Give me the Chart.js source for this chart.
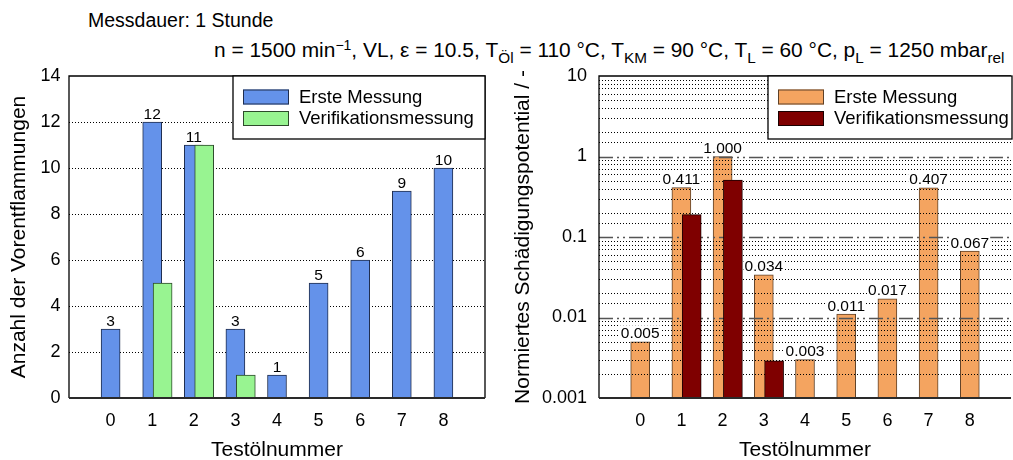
<!DOCTYPE html>
<html>
<head>
<meta charset="utf-8">
<script src="https://cdn.jsdelivr.net/npm/chart.js@4.4.1/dist/chart.umd.min.js"></script>
<style>
  html, body { margin: 0; padding: 0; background: #fff; }
  body { width: 1013px; height: 460px; position: relative; overflow: hidden;
         font-family: "Liberation Sans", Arial, Helvetica, sans-serif; color: #000; }
  .hdr { position: absolute; white-space: nowrap; line-height: 20px; }
  .hdr sub { font-size: 15.3px; line-height: 0; vertical-align: baseline; position: relative; top: 6px; }
  .hdr sup { font-size: 14px; line-height: 0; vertical-align: baseline; position: relative; top: -7px; }
  #leftChart { position: absolute; left: 0; top: 0; }
  #rightChart { position: absolute; left: 500px; top: 0; }
</style>
</head>
<body>
<div class="hdr" style="left:88px; top:10px; font-size:19.5px;">Messdauer: 1 Stunde</div>
<div class="hdr" style="left:214px; top:40px; font-size:20.9px;">n = 1500 min<sup>−1</sup>, VL, ε = 10.5, T<sub>Öl</sub> = 110 °C, T<sub>KM</sub> = 90 °C, T<sub>L</sub> = 60 °C, p<sub>L</sub> = 1250 mbar<sub>rel</sub></div>
<canvas id="leftChart" width="500" height="460"></canvas>
<canvas id="rightChart" width="515" height="460"></canvas>
<script>
// Test oils and measured values
const oilNumbers = [0, 1, 2, 3, 4, 5, 6, 7, 8];
const seriesNames = ['Erste Messung', 'Verifikationsmessung'];

// number of pre-ignitions per test oil
const preIgnitionsFirst  = [3, 12, 11, 3, 1, 5, 6, 9, 10];
const preIgnitionsVerify = [null, 5, 11, 1, null, null, null, null, null];

// normalised damage potential per test oil
const damageFirst  = [0.005, 0.411, 1.000, 0.034, 0.003, 0.011, 0.017, 0.407, 0.067];
const damageVerify = [null, 0.19, 0.51, 0.0029, null, null, null, null, null];

// axis ticks
const countTicks  = [0, 2, 4, 6, 8, 10, 12, 14];
const damageTicks = [0.001, 0.01, 0.1, 1, 10];

const FONT = '"Liberation Sans", Arial, Helvetica, sans-serif';
Chart.defaults.font.family = FONT;
Chart.defaults.color = '#000';

const toPoints = vals => oilNumbers.map((x, i) => ({ x: x, y: vals[i] }));

// horizontal grid: dotted lines, dash-dot at decades on a log axis;
// drawn either behind all bars or right after the first series
const hGrid = {
  id: 'hGrid',
  draw(chart, opts) {
    const ctx = chart.ctx;
    const a = chart.chartArea;
    const y = chart.scales.y;
    ctx.save();
    y.ticks.forEach(t => {
      const v = t.value;
      if (v <= y.min || v >= y.max) return;
      let decade = false;
      if (opts.log) {
        const lg = Math.log10(v);
        decade = Math.abs(lg - Math.round(lg)) < 1e-6;
      }
      const py = Math.round(y.getPixelForValue(v)) + 0.5;
      ctx.beginPath();
      if (decade) {
        ctx.strokeStyle = '#555';
        ctx.lineWidth = 1.6;
        ctx.setLineDash([14, 4, 2, 4, 2, 4]);
      } else {
        ctx.strokeStyle = '#000';
        ctx.lineWidth = 1;
        ctx.setLineDash([1, 2]);
      }
      ctx.moveTo(a.left, py);
      ctx.lineTo(a.right, py);
      ctx.stroke();
    });
    ctx.restore();
  },
  beforeDatasetsDraw(chart, args, opts) {
    if (!opts.afterFirst) this.draw(chart, opts);
  },
  afterDatasetDraw(chart, args, opts) {
    if (opts.afterFirst && args.index === 0) this.draw(chart, opts);
  }
};

// value labels with a white backing box above the bars of the first series
const valueLabels = {
  id: 'valueLabels',
  afterDatasetsDraw(chart, args, opts) {
    const ctx = chart.ctx;
    const meta = chart.getDatasetMeta(0);
    const vals = chart.data.datasets[0].data;
    ctx.save();
    ctx.font = '15.5px ' + FONT;
    ctx.textAlign = 'center';
    ctx.textBaseline = 'alphabetic';
    meta.data.forEach((bar, i) => {
      const v = vals[i].y;
      if (v === null || v === undefined) return;
      const txt = opts.format(v);
      const w = ctx.measureText(txt).width;
      const base = bar.y - 3.5;
      ctx.fillStyle = '#fff';
      ctx.fillRect(bar.x - w / 2 - 1, base - 13, w + 2, 15.5);
      ctx.fillStyle = '#000';
      ctx.fillText(txt, bar.x, base);
    });
    ctx.restore();
  }
};

// plot frame and framed legend inside the plot area
const frameAndLegend = {
  id: 'frameAndLegend',
  afterDraw(chart, args, opts) {
    const ctx = chart.ctx;
    const a = chart.chartArea;
    ctx.save();
    ctx.strokeStyle = '#000';
    ctx.lineWidth = 1.3;
    ctx.beginPath();
    ctx.moveTo(a.left, a.bottom);
    ctx.lineTo(a.left, a.top);
    ctx.lineTo(a.right, a.top);
    if (opts.rightEdge) ctx.lineTo(a.right, a.bottom);
    ctx.stroke();
    ctx.strokeStyle = '#2a2a2a';
    ctx.lineWidth = 2.2;
    ctx.beginPath();
    ctx.moveTo(a.left, a.bottom);
    ctx.lineTo(a.right, a.bottom);
    ctx.stroke();

    // legend box
    const L = opts.legend;
    const bx = L.left, by = a.top, bw = L.right - L.left, bh = L.height;
    ctx.fillStyle = '#fff';
    ctx.fillRect(bx, by, bw, bh);
    ctx.strokeStyle = '#000';
    ctx.lineWidth = 1.3;
    ctx.strokeRect(bx, by, bw, bh);
    ctx.font = '18.5px ' + FONT;
    ctx.textAlign = 'left';
    ctx.textBaseline = 'middle';
    chart.data.datasets.forEach((ds, i) => {
      const sy = by + 13.5 + i * 21.5;
      ctx.fillStyle = ds.backgroundColor;
      ctx.fillRect(bx + 10, sy, 46, 15);
      ctx.strokeStyle = ds.borderColor;
      ctx.lineWidth = 1;
      ctx.strokeRect(bx + 10.5, sy + 0.5, 45, 14);
      ctx.fillStyle = '#000';
      ctx.fillText(ds.label, bx + 66, sy + 8);
    });
    ctx.restore();
  }
};

const xAxisCommon = {
  type: 'linear', min: -1, max: 9, offset: false,
  grid: { display: false, offset: false }, border: { display: false },
  ticks: {
    stepSize: 1, padding: 4, font: { size: 18 },
    callback: v => (oilNumbers.includes(v) ? String(v) : '')
  },
  title: { display: true, text: 'Testölnummer', font: { size: 21 }, padding: { top: 0, bottom: -3 } },
  afterFit: s => { s.height = 62; }
};
const xShifted = { type: 'linear', min: -1.25, max: 8.75, offset: false, display: false };

new Chart(document.getElementById('leftChart'), {
  type: 'bar',
  data: {
    datasets: [
      { label: seriesNames[0], data: toPoints(preIgnitionsFirst), xAxisID: 'x', order: 1,
        backgroundColor: '#6492ea', borderColor: '#1f2d4d', borderWidth: 1 },
      { label: seriesNames[1], data: toPoints(preIgnitionsVerify), xAxisID: 'x2', order: 0,
        backgroundColor: '#98f491', borderColor: '#2d4a2b', borderWidth: 1 }
    ]
  },
  options: {
    responsive: false, animation: false,
    layout: { padding: { top: 76, right: 15, left: 0, bottom: 0 } },
    datasets: { bar: { barThickness: 19, grouped: false, borderSkipped: 'start' } },
    plugins: {
      legend: { display: false }, tooltip: { enabled: false },
      hGrid: { log: false, afterFirst: false },
      valueLabels: { format: v => String(v) },
      frameAndLegend: { rightEdge: true, legend: { left: 233, right: 485, height: 63 } }
    },
    scales: {
      x: xAxisCommon,
      x2: xShifted,
      y: {
        type: 'linear', min: 0, max: 14,
        afterBuildTicks: s => { s.ticks = countTicks.map(v => ({ value: v })); },
        ticks: { padding: 8.5, font: { size: 18 } },
        grid: { display: false, drawTicks: false },
        border: { display: false },
        title: { display: true, text: 'Anzahl der Vorentflammungen', font: { size: 21 }, padding: { top: 7, bottom: 0 } },
        afterFit: s => { s.width = 69; }
      }
    }
  },
  plugins: [hGrid, valueLabels, frameAndLegend]
});

new Chart(document.getElementById('rightChart'), {
  type: 'bar',
  data: {
    datasets: [
      { label: seriesNames[0], data: toPoints(damageFirst), xAxisID: 'x', order: 1,
        backgroundColor: '#f4a460', borderColor: '#5e4128', borderWidth: 1 },
      { label: seriesNames[1], data: toPoints(damageVerify), xAxisID: 'x2', order: 0,
        backgroundColor: '#7f0000', borderColor: '#1a0000', borderWidth: 1 }
    ]
  },
  options: {
    responsive: false, animation: false,
    layout: { padding: { top: 76, right: 0, left: 0, bottom: 0 } },
    datasets: { bar: { barThickness: 19, grouped: false, borderSkipped: 'start' } },
    plugins: {
      legend: { display: false }, tooltip: { enabled: false },
      hGrid: { log: true, afterFirst: true },
      valueLabels: { format: v => v.toFixed(3) },
      frameAndLegend: { rightEdge: false, legend: { left: 268, right: 512, height: 63 } }
    },
    scales: {
      x: xAxisCommon,
      x2: xShifted,
      y: {
        type: 'logarithmic', min: 0.001, max: 10,
        ticks: {
          autoSkip: false, padding: 12, font: { size: 18 },
          callback: v => {
            const hit = damageTicks.find(t => Math.abs(t - v) / t < 1e-6);
            return hit === undefined ? '' : String(hit);
          }
        },
        grid: { display: false, drawTicks: false },
        border: { display: false },
        title: { display: true, text: 'Normiertes Schädigungspotential / -', font: { size: 21 }, padding: { top: 11, bottom: 0 } },
        afterFit: s => { s.width = 99; }
      }
    }
  },
  plugins: [hGrid, valueLabels, frameAndLegend]
});
</script>
</body>
</html>
